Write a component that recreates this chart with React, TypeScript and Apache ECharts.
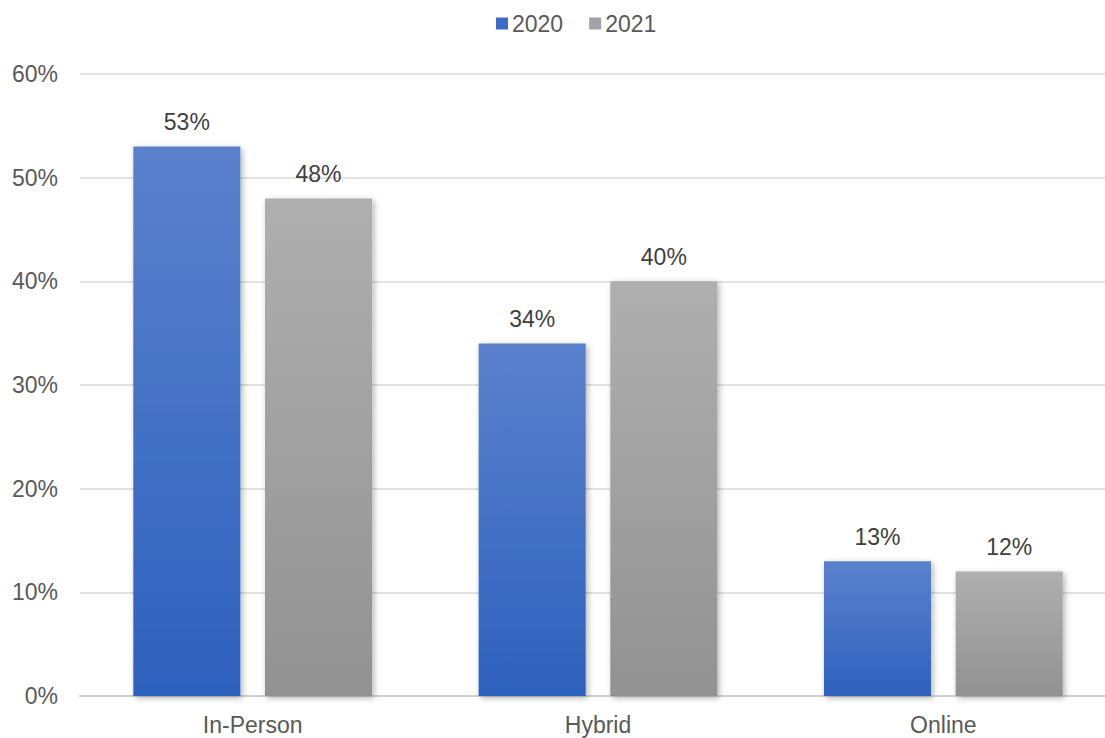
import React, { useEffect, useRef } from "react";
import * as echarts from "echarts";

const categories = ["In-Person", "Hybrid", "Online"];
const values2020 = [53, 34, 13];
const values2021 = [48, 40, 12];
const seriesNames = ["2020", "2021"];

export default function App() {
  const ref = useRef<HTMLDivElement>(null);
  useEffect(() => {
    if (!ref.current) return;
    const chart = echarts.init(ref.current, null, { renderer: "svg" });
    const font = "Liberation Sans, Arial, sans-serif";
    const shadow = {
      shadowBlur: 6,
      shadowColor: "rgba(0,0,0,0.3)",
      shadowOffsetX: 2,
      shadowOffsetY: 2,
    };
    const blueGrad = new echarts.graphic.LinearGradient(0, 0, 0, 1, [
      { offset: 0, color: "#5B81CC" },
      { offset: 1, color: "#2E61BD" },
    ]);
    const grayGrad = new echarts.graphic.LinearGradient(0, 0, 0, 1, [
      { offset: 0, color: "#AFAFAF" },
      { offset: 1, color: "#929292" },
    ]);
    const label = {
      show: true,
      position: "top" as const,
      distance: 13,
      formatter: "{c}%",
      color: "#404040",
      fontSize: 23,
      fontFamily: font,
    };
    chart.setOption({
      animation: false,
      legend: {
        top: 7,
        left: 491,
        itemWidth: 12,
        itemHeight: 12,
        itemGap: 26,
        icon: "rect",
        textStyle: { color: "#595959", fontSize: 23, fontFamily: font, padding: [0, 0, 0, -1] },
        data: [
          { name: seriesNames[0], itemStyle: { color: "#3F6BC4" } },
          { name: seriesNames[1], itemStyle: { color: "#A2A2A2" } },
        ],
      },
      grid: { left: 80, width: 1036, top: 74, bottom: 42, outerBoundsMode: "none", containLabel: false },
      xAxis: {
        type: "category",
        data: categories,
        axisLine: { lineStyle: { color: "#D0D0D0", width: 2 } },
        axisTick: { show: false },
        axisLabel: { color: "#595959", fontSize: 23, fontFamily: font, margin: 17 },
      },
      yAxis: {
        type: "value",
        min: 0,
        max: 60,
        interval: 10,
        axisLabel: {
          formatter: "{value}%",
          color: "#595959",
          fontSize: 23,
          fontFamily: font,
          margin: 22,
        },
        splitLine: { lineStyle: { color: "#D9D9D9", width: 1.5 } },
        axisLine: { show: false },
        axisTick: { show: false },
      },
      series: [
        {
          name: seriesNames[0],
          type: "bar",
          data: values2020,
          barWidth: "31%",
          barGap: "23%",
          itemStyle: { color: blueGrad, ...shadow },
          label,
        },
        {
          name: seriesNames[1],
          type: "bar",
          data: values2021,
          barWidth: "31%",
          itemStyle: { color: grayGrad, ...shadow },
          label,
        },
      ],
    });
    return () => chart.dispose();
  }, []);
  return <div ref={ref} style={{ width: 1105, height: 738, position: "absolute", left: 0, top: 0 }} />;
}
